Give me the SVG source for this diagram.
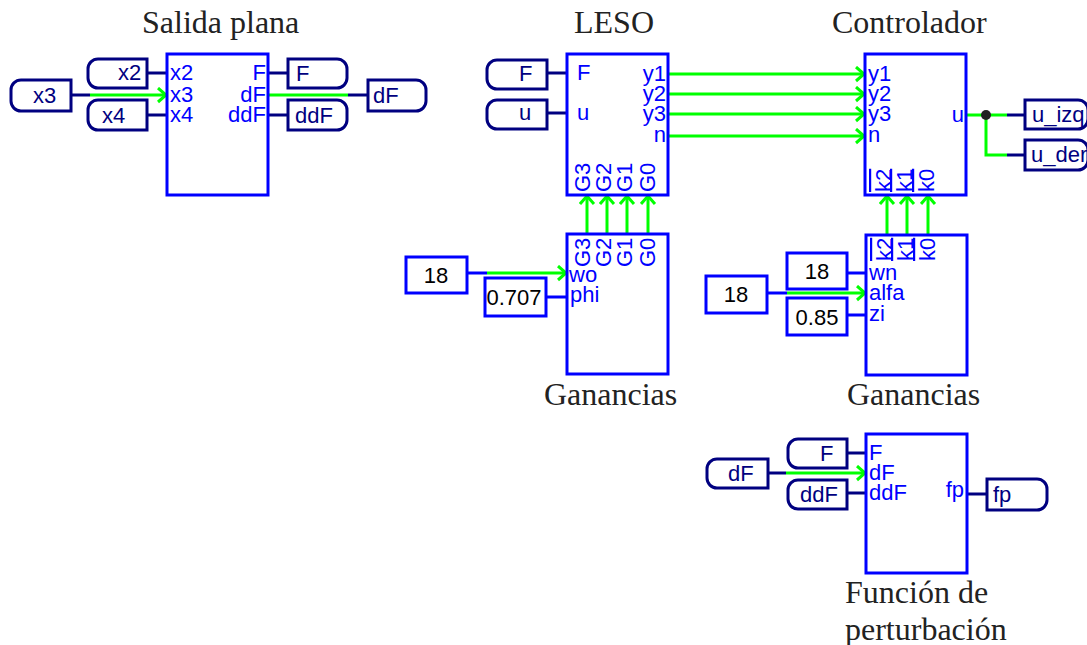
<svg xmlns="http://www.w3.org/2000/svg" width="1087" height="645" viewBox="0 0 1087 645">
<style>
.blk{fill:none;stroke:#0000ff;stroke-width:3}
.tag{fill:#fff;stroke:#000080;stroke-width:3}
.cst{fill:#fff;stroke:#0000ff;stroke-width:3}
.w{stroke:#000080;stroke-width:3;fill:none}
.wb{stroke:#0000ff;stroke-width:3;fill:none}
.g{stroke:#00ff00;stroke-width:3;fill:none}
.ga{marker-end:url(#arr)}
.pl{font-family:"Liberation Sans",Arial,sans-serif;font-size:22px;fill:#0000ff}
.pr{text-anchor:end}
.ol{text-decoration:overline}
.tt{font-family:"Liberation Sans",Arial,sans-serif;font-size:22px;fill:#000080}
.ct{font-family:"Liberation Sans",Arial,sans-serif;font-size:22px;fill:#000;text-anchor:middle}
.ttl{font-family:"Liberation Serif","Times New Roman",serif;font-size:32px;fill:#222}
</style>
<defs>
<marker id="arr" markerUnits="userSpaceOnUse" markerWidth="14" markerHeight="18" refX="10" refY="8" orient="auto" viewBox="0 0 14 18">
<path d="M2,1 L10,8 L2,15" fill="none" stroke="#00ff00" stroke-width="3"/>
</marker>
</defs>

<g id="connectors">
<line class="w" x1="147" y1="73" x2="167" y2="73"/>
<line class="w" x1="71" y1="95" x2="90" y2="95"/>
<line class="g ga" x1="90" y1="95" x2="166" y2="95"/>
<line class="w" x1="147" y1="115" x2="167" y2="115"/>
<line class="w" x1="268" y1="73" x2="288" y2="73"/>
<line class="g" x1="268" y1="95" x2="348" y2="95"/>
<line class="w" x1="348" y1="95" x2="368" y2="95"/>
<line class="w" x1="268" y1="115" x2="288" y2="115"/>
<line class="w" x1="547" y1="73" x2="567" y2="73"/>
<line class="w" x1="547" y1="113" x2="567" y2="113"/>
<line class="g ga" x1="668" y1="74" x2="864" y2="74"/>
<line class="g ga" x1="668" y1="94" x2="864" y2="94"/>
<line class="g ga" x1="668" y1="114" x2="864" y2="114"/>
<line class="g ga" x1="668" y1="136" x2="864" y2="136"/>
<line class="g ga" x1="587" y1="234" x2="587" y2="196"/>
<line class="g ga" x1="607" y1="234" x2="607" y2="196"/>
<line class="g ga" x1="627" y1="234" x2="627" y2="196"/>
<line class="g ga" x1="648" y1="234" x2="648" y2="196"/>
<line class="g ga" x1="887" y1="235" x2="887" y2="196"/>
<line class="g ga" x1="907" y1="235" x2="907" y2="196"/>
<line class="g ga" x1="928" y1="235" x2="928" y2="196"/>
<line class="g" x1="966" y1="115" x2="1007" y2="115"/>
<polyline class="g" points="986,115 986,155 1007,155"/>
<line class="w" x1="1007" y1="115" x2="1025" y2="115"/>
<line class="w" x1="1007" y1="155" x2="1025" y2="155"/>
<circle cx="986" cy="115" r="5" fill="#222"/>
<line class="wb" x1="467" y1="273" x2="487" y2="273"/>
<line class="g ga" x1="487" y1="273" x2="566" y2="273"/>
<line class="wb" x1="546" y1="297" x2="567" y2="297"/>
<line class="wb" x1="847" y1="273" x2="866" y2="273"/>
<line class="wb" x1="767" y1="293" x2="787" y2="293"/>
<line class="g ga" x1="787" y1="293" x2="865" y2="293"/>
<line class="wb" x1="847" y1="315" x2="866" y2="315"/>
<line class="w" x1="847" y1="453" x2="866" y2="453"/>
<line class="w" x1="768" y1="473" x2="786" y2="473"/>
<line class="g ga" x1="786" y1="473" x2="865" y2="473"/>
<line class="w" x1="847" y1="493" x2="866" y2="493"/>
<line class="w" x1="967" y1="494" x2="987" y2="494"/>
</g>

<g id="salida-plana">
<text class="ttl" x="142" y="33">Salida plana</text>
<rect class="blk" x="167" y="54" width="101" height="141"/>
<text class="pl" x="170" y="80">x2</text>
<text class="pl" x="170" y="102">x3</text>
<text class="pl" x="170" y="122">x4</text>
<text class="pl pr" x="266" y="80">F</text>
<text class="pl pr" x="266" y="102">dF</text>
<text class="pl pr" x="266" y="122">ddF</text>
</g>

<g id="tag-x2"><path class="tag" d="M147,59 H98 A10,10 0 0 0 88,69 V78 A10,10 0 0 0 98,88 H147 Z"/><text class="tt" x="118" y="80">x2</text></g>
<g id="tag-x3"><path class="tag" d="M71,80 H21 A10,10 0 0 0 11,90 V101 A10,10 0 0 0 21,111 H71 Z"/><text class="tt" x="33" y="103">x3</text></g>
<g id="tag-x4"><path class="tag" d="M147,100 H98 A10,10 0 0 0 88,110 V120 A10,10 0 0 0 98,130 H147 Z"/><text class="tt" x="102" y="123">x4</text></g>
<g id="tag-F-out"><path class="tag" d="M288,59 H337 A10,10 0 0 1 347,69 V78 A10,10 0 0 1 337,88 H288 Z"/><text class="tt" x="296" y="81">F</text></g>
<g id="tag-ddF-out"><path class="tag" d="M288,100 H337 A10,10 0 0 1 347,110 V120 A10,10 0 0 1 337,130 H288 Z"/><text class="tt" x="295" y="123">ddF</text></g>
<g id="tag-dF-out"><path class="tag" d="M368,80 H416 A10,10 0 0 1 426,90 V101 A10,10 0 0 1 416,111 H368 Z"/><text class="tt" x="373" y="103">dF</text></g>

<g id="leso">
<text class="ttl" x="574" y="33">LESO</text>
<rect class="blk" x="567" y="54" width="101" height="141"/>
<text class="pl" x="577" y="80">F</text>
<text class="pl" x="577" y="120">u</text>
<text class="pl pr" x="666" y="81">y1</text>
<text class="pl pr" x="666" y="101">y2</text>
<text class="pl pr" x="666" y="121">y3</text>
<text class="pl pr" x="666" y="142">n</text>
<text class="pl" transform="translate(590,192) rotate(-90)">G3</text>
<text class="pl" transform="translate(611,192) rotate(-90)">G2</text>
<text class="pl" transform="translate(632,192) rotate(-90)">G1</text>
<text class="pl" transform="translate(655,192) rotate(-90)">G0</text>
</g>
<g id="tag-leso-F"><path class="tag" d="M547,60 H497 A10,10 0 0 0 487,70 V79 A10,10 0 0 0 497,89 H547 Z"/><text class="tt" x="519" y="81">F</text></g>
<g id="tag-leso-u"><path class="tag" d="M547,100 H497 A10,10 0 0 0 487,110 V119 A10,10 0 0 0 497,129 H547 Z"/><text class="tt" x="519" y="120">u</text></g>

<g id="controlador">
<text class="ttl" x="832" y="33">Controlador</text>
<rect class="blk" x="865" y="54" width="101" height="141"/>
<text class="pl" x="868" y="81">y1</text>
<text class="pl" x="868" y="101">y2</text>
<text class="pl" x="868" y="121">y3</text>
<text class="pl" x="868" y="142">n</text>
<text class="pl pr" x="964" y="122">u</text>
<text class="pl ol" transform="translate(891,192) rotate(-90)">k2</text>
<text class="pl ol" transform="translate(912,192) rotate(-90)">k1</text>
<text class="pl ol" transform="translate(934,192) rotate(-90)">k0</text>
</g>
<g id="tag-u-izq"><path class="tag" d="M1025,100 H1078 A10,10 0 0 1 1088,110 V119 A10,10 0 0 1 1078,129 H1025 Z"/><text class="tt" x="1032" y="122">u_izq</text></g>
<g id="tag-u-der"><path class="tag" d="M1025,140 H1078 A10,10 0 0 1 1088,150 V160 A10,10 0 0 1 1078,170 H1025 Z"/><text class="tt" x="1031" y="162">u_der</text></g>

<g id="ganancias-leso">
<rect class="blk" x="567" y="234" width="101" height="140"/>
<text class="pl" transform="translate(590,267) rotate(-90)">G3</text>
<text class="pl" transform="translate(611,267) rotate(-90)">G2</text>
<text class="pl" transform="translate(632,267) rotate(-90)">G1</text>
<text class="pl" transform="translate(655,267) rotate(-90)">G0</text>
<text class="pl" x="569" y="282">wo</text>
<text class="pl" x="570" y="302">phi</text>
<text class="ttl" x="544" y="405">Ganancias</text>
</g>
<g id="const-wo"><rect class="cst" x="406" y="257" width="61" height="36"/><text class="ct" x="436" y="283">18</text></g>
<g id="const-phi"><rect class="cst" x="485" y="278" width="61" height="38"/><text class="ct" x="514" y="305">0.707</text></g>

<g id="ganancias-ctrl">
<rect class="blk" x="866" y="235" width="101" height="140"/>
<text class="pl ol" transform="translate(892,261) rotate(-90)">k2</text>
<text class="pl ol" transform="translate(913,261) rotate(-90)">k1</text>
<text class="pl ol" transform="translate(935,261) rotate(-90)">k0</text>
<text class="pl" x="869" y="280">wn</text>
<text class="pl" x="869" y="300">alfa</text>
<text class="pl" x="869" y="321">zi</text>
<text class="ttl" x="847" y="405">Ganancias</text>
</g>
<g id="const-wn"><rect class="cst" x="787" y="253" width="60" height="36"/><text class="ct" x="817" y="279">18</text></g>
<g id="const-alfa"><rect class="cst" x="706" y="276" width="61" height="37"/><text class="ct" x="736" y="302">18</text></g>
<g id="const-zi"><rect class="cst" x="787" y="298" width="60" height="37"/><text class="ct" x="817" y="325">0.85</text></g>

<g id="perturbacion">
<rect class="blk" x="866" y="434" width="101" height="139"/>
<text class="pl" x="869" y="460">F</text>
<text class="pl" x="869" y="480">dF</text>
<text class="pl" x="869" y="500">ddF</text>
<text class="pl pr" x="964" y="497">fp</text>
<text class="ttl" x="845" y="603">Función de</text>
<text class="ttl" x="845" y="640">perturbación</text>
</g>
<g id="tag-p-F"><path class="tag" d="M847,439 H798 A10,10 0 0 0 788,449 V458 A10,10 0 0 0 798,468 H847 Z"/><text class="tt" x="820" y="461">F</text></g>
<g id="tag-p-dF"><path class="tag" d="M768,459 H717 A10,10 0 0 0 707,469 V478 A10,10 0 0 0 717,488 H768 Z"/><text class="tt" x="728" y="481">dF</text></g>
<g id="tag-p-ddF"><path class="tag" d="M847,480 H798 A10,10 0 0 0 788,490 V499 A10,10 0 0 0 798,509 H847 Z"/><text class="tt" x="800" y="502">ddF</text></g>
<g id="tag-fp"><path class="tag" d="M987,479 H1037 A10,10 0 0 1 1047,489 V500 A10,10 0 0 1 1037,510 H987 Z"/><text class="tt" x="993" y="502">fp</text></g>
</svg>
